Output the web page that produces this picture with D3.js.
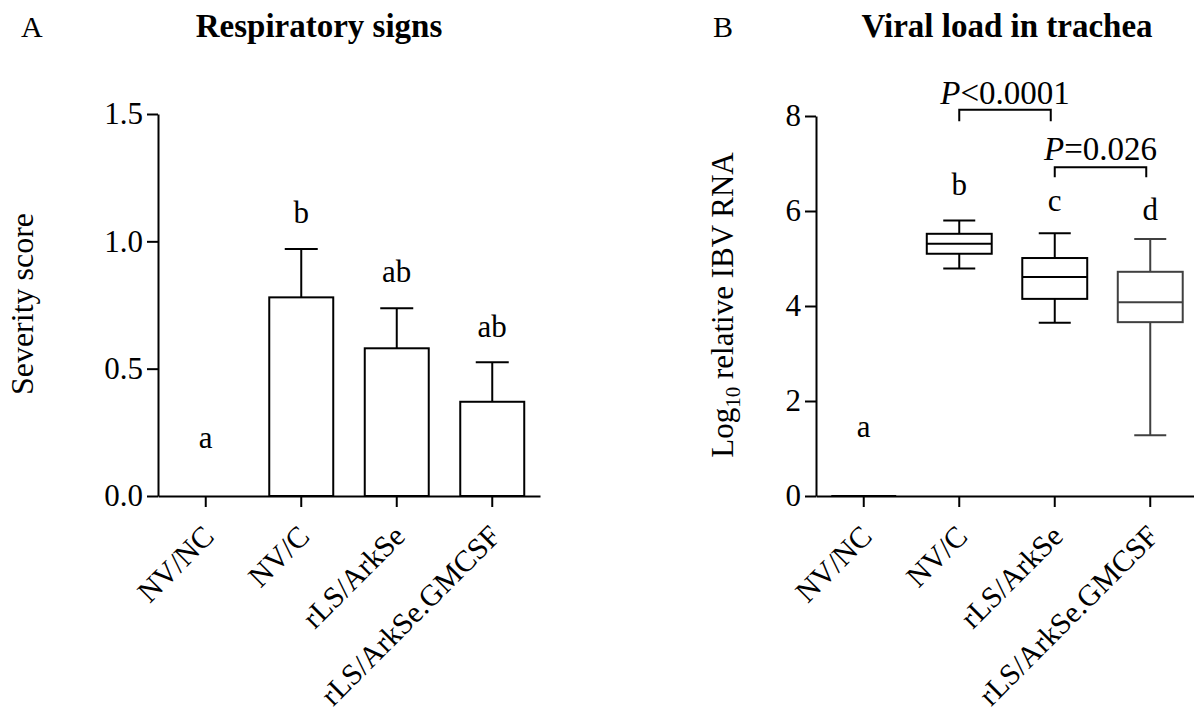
<!DOCTYPE html>
<html>
<head>
<meta charset="utf-8">
<script src="https://cdn.jsdelivr.net/npm/d3@7"></script>
<style>
body{margin:0;background:#fff;}
text{font-family:"Liberation Serif","Times New Roman",serif;fill:#000;}
</style>
</head>
<body>
<script>
var w=1194;
var h=721;

var groups=["NV/NC","NV/C","rLS/ArkSe","rLS/ArkSe.GMCSF"];

// panel A: mean + SEM
var scoreMean=[0,0.78,0.58,0.37];
var scoreSem=[0,0.19,0.157,0.155];
var lettersA=["a","b","ab","ab"];
var lettersAy=[0.19,1.072,0.841,0.625];
var ticksA=[0,0.5,1.0,1.5];

// panel B: box plots (min, q1, median, q3, max)
var rnaMin=[0,4.79,3.65,1.28];
var rnaQ1=[0,5.10,4.15,3.66];
var rnaMed=[0,5.31,4.61,4.08];
var rnaQ3=[0,5.52,5.01,4.72];
var rnaMax=[0,5.80,5.53,5.41];
var lettersB=["a","b","c","d"];
var lettersBy=[1.25,6.34,5.99,5.81];
var ticksB=[0,2,4,6,8];

// significance brackets
var pLabels=["<0.0001","=0.026"];
var pFrom=[1,2];
var pTo=[2,3];
var pTop=[8.13,6.92];
var pLeg=[7.89,6.71];
var pText=[8.25,7.07];

var svg=d3.select("body").append("svg")
    .attr("width",w)
    .attr("height",h);

var base=496;

// ---------- panel A ----------
var xA=d3.scaleBand().domain(groups).range([158,540]).paddingInner(0.33).paddingOuter(0.165);
var yA=d3.scaleLinear().domain([0,1.5]).range([base,114]);

var gA=svg.append("g");

gA.selectAll("rect.bar")
    .data(groups)
    .enter()
    .append("rect")
    .attr("class","bar")
    .attr("x",function(d){return xA(d);})
    .attr("y",function(d,i){return yA(scoreMean[i]);})
    .attr("width",xA.bandwidth())
    .attr("height",function(d,i){return base-yA(scoreMean[i]);})
    .attr("fill","none")
    .attr("stroke","#000")
    .attr("stroke-width",2);

var errA=gA.selectAll("g.err")
    .data(groups.filter(function(d,i){return scoreSem[i]>0;}))
    .enter()
    .append("g");
errA.append("line")
    .attr("x1",function(d){return xA(d)+xA.bandwidth()/2;})
    .attr("x2",function(d){return xA(d)+xA.bandwidth()/2;})
    .attr("y1",function(d){var i=groups.indexOf(d);return yA(scoreMean[i]);})
    .attr("y2",function(d){var i=groups.indexOf(d);return yA(scoreMean[i]+scoreSem[i]);})
    .attr("stroke","#000").attr("stroke-width",2);
errA.append("line")
    .attr("x1",function(d){return xA(d)+xA.bandwidth()/2-16.5;})
    .attr("x2",function(d){return xA(d)+xA.bandwidth()/2+16.5;})
    .attr("y1",function(d){var i=groups.indexOf(d);return yA(scoreMean[i]+scoreSem[i]);})
    .attr("y2",function(d){var i=groups.indexOf(d);return yA(scoreMean[i]+scoreSem[i]);})
    .attr("stroke","#000").attr("stroke-width",2);

gA.selectAll("text.let")
    .data(lettersA)
    .enter()
    .append("text")
    .attr("x",function(d,i){return xA(groups[i])+xA.bandwidth()/2;})
    .attr("y",function(d,i){return yA(lettersAy[i]);})
    .attr("text-anchor","middle")
    .attr("font-size",31)
    .text(function(d){return d;});

// axes A
gA.append("g")
    .attr("transform","translate(158,0)")
    .call(d3.axisLeft(yA).tickValues(ticksA).tickFormat(d3.format(".1f")).tickSize(11).tickSizeOuter(0).tickPadding(4));
gA.append("g")
    .attr("transform","translate(0,"+base+")")
    .call(d3.axisBottom(xA).tickSize(11).tickSizeOuter(0).tickFormat(""));

// ---------- panel B ----------
var xB=d3.scaleBand().domain(groups).range([816,1198]).paddingInner(0.32).paddingOuter(0.16);
var yB=d3.scaleLinear().domain([0,8]).range([base,116]);

var gB=svg.append("g");

var box=gB.selectAll("g.box")
    .data(groups)
    .enter()
    .append("g")
    .attr("stroke",function(d,i){return i==3?"#404040":"#000";})
    .attr("stroke-width",2)
    .attr("fill","none");

box.append("line")
    .attr("x1",function(d){return xB(d)+xB.bandwidth()/2;})
    .attr("x2",function(d){return xB(d)+xB.bandwidth()/2;})
    .attr("y1",function(d,i){return yB(rnaMin[i]);})
    .attr("y2",function(d,i){return yB(rnaMax[i]);});
box.append("rect")
    .attr("x",function(d){return xB(d);})
    .attr("y",function(d,i){return yB(rnaQ3[i]);})
    .attr("width",xB.bandwidth())
    .attr("height",function(d,i){return yB(rnaQ1[i])-yB(rnaQ3[i]);})
    .attr("fill","#fff");
box.append("line")
    .attr("x1",function(d){return xB(d);})
    .attr("x2",function(d){return xB(d)+xB.bandwidth();})
    .attr("y1",function(d,i){return yB(rnaMed[i]);})
    .attr("y2",function(d,i){return yB(rnaMed[i]);});
[rnaMin,rnaMax].forEach(function(arr){
    box.append("line")
        .attr("x1",function(d){return xB(d)+xB.bandwidth()/2-16;})
        .attr("x2",function(d){return xB(d)+xB.bandwidth()/2+16;})
        .attr("y1",function(d,i){return yB(arr[i]);})
        .attr("y2",function(d,i){return yB(arr[i]);})
        .attr("display",function(d,i){return arr[i]==0?"none":null;});
});

gB.selectAll("text.let")
    .data(lettersB)
    .enter()
    .append("text")
    .attr("x",function(d,i){return xB(groups[i])+xB.bandwidth()/2;})
    .attr("y",function(d,i){return yB(lettersBy[i]);})
    .attr("text-anchor","middle")
    .attr("font-size",31)
    .text(function(d){return d;});

// brackets
pLabels.forEach(function(lab,k){
    var x1=xB(groups[pFrom[k]])+xB.bandwidth()/2;
    var x2=xB(groups[pTo[k]])+xB.bandwidth()/2-4;
    gB.append("path")
        .attr("d","M"+x1+","+yB(pLeg[k])+"V"+yB(pTop[k])+"H"+x2+"V"+yB(pLeg[k]))
        .attr("fill","none")
        .attr("stroke","#000")
        .attr("stroke-width",2);
    var t=gB.append("text")
        .attr("x",(x1+x2)/2)
        .attr("y",yB(pText[k]))
        .attr("text-anchor","middle")
        .attr("font-size",33);
    t.append("tspan").attr("font-style","italic").text("P");
    t.append("tspan").text(lab);
});

gB.append("g")
    .attr("transform","translate(816,0)")
    .call(d3.axisLeft(yB).tickValues(ticksB).tickSize(11).tickSizeOuter(0).tickPadding(4));
gB.append("g")
    .attr("transform","translate(0,"+base+")")
    .call(d3.axisBottom(xB).tickSize(11).tickSizeOuter(0).tickFormat(""));

// axis styling
svg.selectAll(".domain").attr("stroke","#000").attr("stroke-width",2);
svg.selectAll(".tick line").attr("stroke","#000").attr("stroke-width",2);
svg.selectAll(".tick text").attr("font-size",31).attr("font-family","Liberation Serif").attr("fill","#000");

// rotated group labels
[[xA,gA],[xB,gB]].forEach(function(p){
    p[1].selectAll("text.grp")
        .data(groups)
        .enter()
        .append("text")
        .attr("class","grp")
        .attr("transform",function(d){return "translate("+(p[0](d)+p[0].bandwidth()/2+10)+","+(base+42)+") rotate(-45)";})
        .attr("text-anchor","end")
        .attr("font-size",30)
        .text(function(d){return d;});
});

// titles and labels
svg.append("text").attr("x",21).attr("y",37).attr("font-size",30).text("A");
svg.append("text").attr("x",319).attr("y",37).attr("text-anchor","middle")
    .attr("font-size",33).attr("font-weight","bold").text("Respiratory signs");
svg.append("text").attr("x",713).attr("y",37).attr("font-size",30).text("B");
svg.append("text").attr("x",1007).attr("y",37).attr("text-anchor","middle")
    .attr("font-size",33).attr("font-weight","bold").text("Viral load in trachea");

svg.append("text")
    .attr("transform","translate(33,304) rotate(-90)")
    .attr("text-anchor","middle")
    .attr("font-size",32)
    .text("Severity score");

var yl=svg.append("text")
    .attr("transform","translate(733,305) rotate(-90)")
    .attr("text-anchor","middle")
    .attr("font-size",31);
yl.append("tspan").text("Log");
yl.append("tspan").attr("font-size",21).attr("dy",7).text("10");
yl.append("tspan").attr("dy",-7).text(" relative IBV RNA");
</script>
</body>
</html>
